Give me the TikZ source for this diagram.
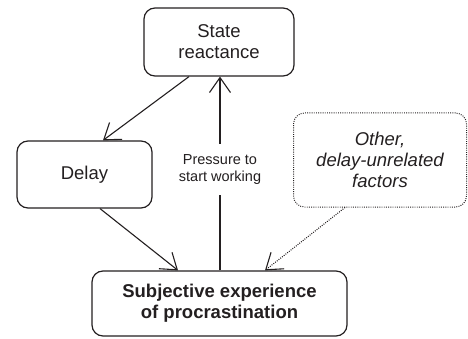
\documentclass[tikz,border=0pt]{standalone}
\usepackage{fontspec}
\setmainfont{Liberation Sans}
\usetikzlibrary{arrows.meta,calc}
\definecolor{ink}{HTML}{231F20}
\begin{document}
\begin{tikzpicture}[x=1pt,y=-1pt,
  box/.style={draw=ink, line width=1.2pt, rounded corners=11pt, align=center, text=ink,
    font=\fontsize{18.5}{21}\selectfont, inner sep=0pt},
  conn/.style={draw=ink, line width=1.1pt, -{Straight Barb[length=15pt,width=21pt,line width=1.1pt]}},
  fine dots/.style={dash pattern=on 0.9pt off 1.3pt},
  lab/.style={fill=white, text=ink, align=center, font=\fontsize{14.5}{16.5}\selectfont, inner xsep=2pt, inner ysep=11pt}
]
\useasboundingbox (0,0) rectangle (468,339);
\node[box, minimum width=150pt, minimum height=68pt] (state) at (219,42) {State\\reactance};
\node[box, minimum width=135pt, minimum height=67pt] (delay) at (84.5,174.5) {Delay};
\node[box, minimum width=255pt, minimum height=65pt, font=\fontsize{18.5}{21}\selectfont\bfseries] (subj) at (219.5,303.5) {Subjective experience\\of procrastination};
\node[box, fine dots, line width=1pt, minimum width=173pt, minimum height=94pt, font=\fontsize{18.5}{21}\selectfont\itshape] (other) at (380,160) {Other,\\delay-unrelated\\factors};
\draw[conn] ($(state.south)+(-30,0)$) -- ($(delay.north)+(18.5,0)$);
\draw[conn] ($(delay.south)+(15.5,0)$) -- ($(subj.north)+(-41.5,0)$);
\draw[conn] ($(subj.north)+(0.5,0)$) -- node[lab, pos=0.52] (press) {Pressure to\\start working} ($(state.south)+(1,0)$);
\draw[conn, fine dots] ($(other.south)+(-35,0)$) -- ($(subj.north)+(45.5,0)$);
\end{tikzpicture}
\end{document}
